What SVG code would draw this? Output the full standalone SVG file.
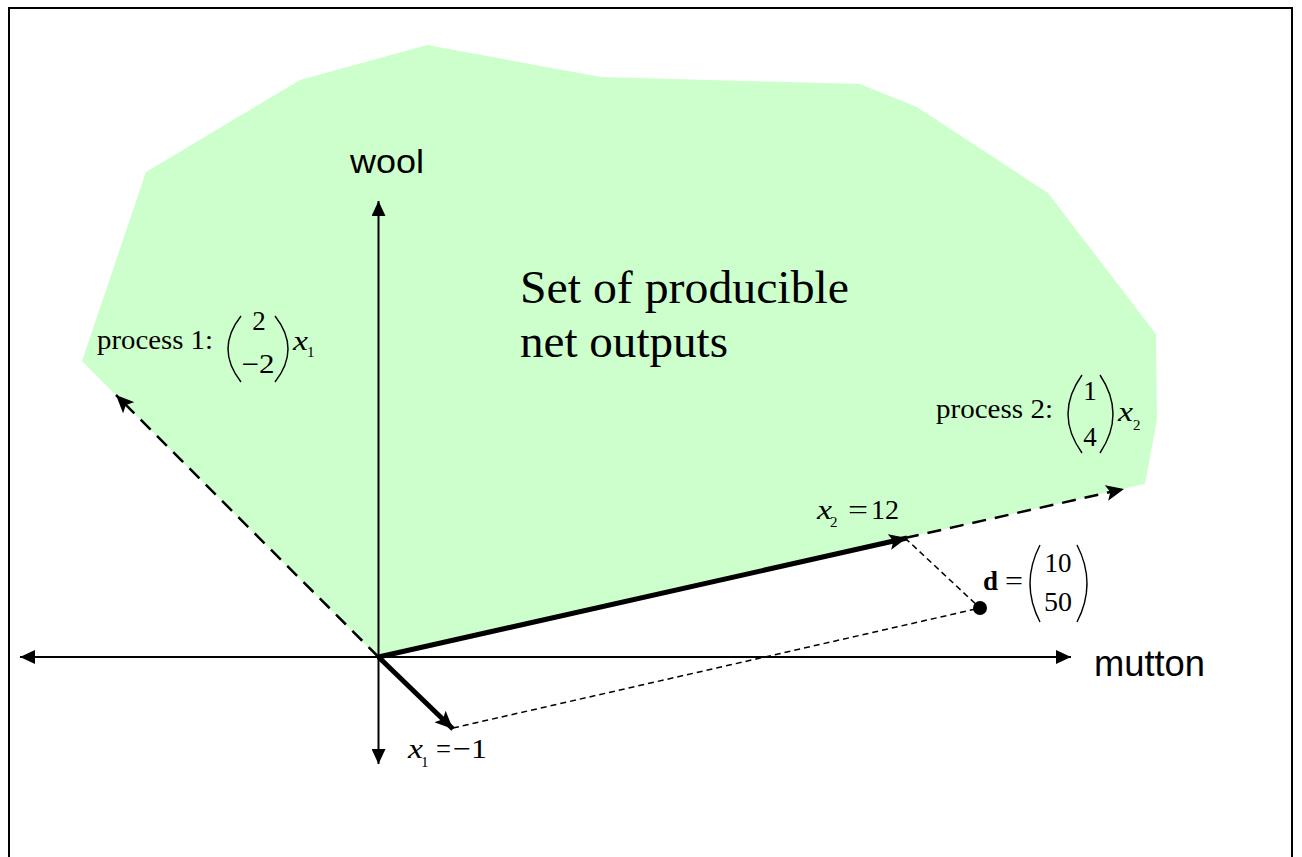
<svg xmlns="http://www.w3.org/2000/svg" width="1302" height="857" viewBox="0 0 1302 857">
<defs>
<marker id="ah" viewBox="0 0 15 14" refX="15" refY="7" markerWidth="15" markerHeight="14" markerUnits="userSpaceOnUse" orient="auto">
<path d="M0,0 L15,7 L0,14 Z" fill="#000"/>
</marker>
<marker id="ahb" viewBox="0 0 18 16" refX="18" refY="8" markerWidth="18" markerHeight="16" markerUnits="userSpaceOnUse" orient="auto">
<path d="M0,0 L18,8 L0,16 L4,8 Z" fill="#000"/>
</marker>
</defs>
<style>
.serif{font-family:"Liberation Serif","Times New Roman",serif;fill:#000}
.sans{font-family:"Liberation Sans",Arial,sans-serif;fill:#000}
.it{font-style:italic}
.par{fill:none;stroke:#000;stroke-width:1.4}
.ax{stroke:#000;stroke-width:2;fill:none}
.thick{stroke:#000;stroke-width:5;fill:none}
.dash{stroke:#000;stroke-width:2.5;stroke-dasharray:14 9;fill:none}
.dot{stroke:#000;stroke-width:1.5;stroke-dasharray:6 4;fill:none}
</style>
<rect x="0" y="0" width="1302" height="857" fill="#fff"/>
<rect x="9" y="8" width="1283" height="870" fill="none" stroke="#000" stroke-width="2"/>
<g id="region">
<polygon points="82,361 146,172 300,80 427,45 601,77 860,84 917,107 1048,193 1156,334 1157,420 1145,484 378,657" fill="#CCFFCC"/>
<text class="serif" x="520" y="303" font-size="47" textLength="329" lengthAdjust="spacingAndGlyphs">Set of producible</text>
<text class="serif" x="520" y="357" font-size="47" textLength="208" lengthAdjust="spacingAndGlyphs">net outputs</text>
</g>
<g id="connectors">
<line class="ax" x1="378.5" y1="657" x2="20" y2="657" marker-end="url(#ah)"/>
<line class="ax" x1="378.5" y1="657" x2="1071" y2="657" marker-end="url(#ah)"/>
<line class="ax" x1="378.5" y1="657" x2="378.5" y2="201" marker-end="url(#ah)"/>
<line class="ax" x1="378.5" y1="657" x2="378.5" y2="764" marker-end="url(#ah)"/>
<line class="dash" x1="378.5" y1="657" x2="116" y2="395" marker-end="url(#ahb)"/>
<line class="dash" x1="905" y1="538" x2="1124" y2="489" marker-end="url(#ahb)"/>
<line class="thick" x1="378.5" y1="657" x2="907" y2="538" marker-end="url(#ahb)"/>
<line class="thick" x1="378.5" y1="657" x2="453" y2="729" marker-end="url(#ahb)"/>
<line class="dot" x1="453" y1="728" x2="980" y2="608"/>
<line class="dot" x1="905" y1="538" x2="980" y2="608"/>
</g>
<g id="axis-labels">
<text class="sans" x="350" y="173" font-size="34" textLength="74" lengthAdjust="spacingAndGlyphs">wool</text>
<text class="sans" x="1094" y="676" font-size="36" textLength="111" lengthAdjust="spacingAndGlyphs">mutton</text>
</g>
<g id="process1">
<text class="serif" x="97" y="349" font-size="28" textLength="116" lengthAdjust="spacingAndGlyphs">process 1:</text>
<path class="par" d="M241,316 Q215,349 241,382"/>
<path class="par" d="M275,316 Q301,349 275,382"/>
<text class="serif" x="259" y="330" font-size="27" text-anchor="middle">2</text>
<text class="serif" x="258" y="373" font-size="27" text-anchor="middle" textLength="33" lengthAdjust="spacingAndGlyphs">−2</text>
<text class="serif it" x="293" y="350" font-size="28" textLength="15" lengthAdjust="spacingAndGlyphs">x</text>
<text class="serif" x="307" y="357" font-size="15">1</text>
</g>
<g id="process2">
<text class="serif" x="936" y="418" font-size="28" textLength="117" lengthAdjust="spacingAndGlyphs">process 2:</text>
<path class="par" d="M1082,375 Q1054,414 1082,453"/>
<path class="par" d="M1100,375 Q1126,414 1100,453"/>
<text class="serif" x="1090" y="400" font-size="27" text-anchor="middle">1</text>
<text class="serif" x="1090" y="446" font-size="27" text-anchor="middle">4</text>
<text class="serif it" x="1118" y="421" font-size="28" textLength="15" lengthAdjust="spacingAndGlyphs">x</text>
<text class="serif" x="1133" y="430" font-size="15">2</text>
</g>
<g id="x2label">
<text class="serif it" x="817" y="519" font-size="28" textLength="15" lengthAdjust="spacingAndGlyphs">x</text>
<text class="serif" x="830" y="527" font-size="15">2</text>
<text class="serif" x="848" y="519" font-size="27" textLength="20" lengthAdjust="spacingAndGlyphs">=</text>
<text class="serif" x="871" y="519" font-size="27" textLength="28" lengthAdjust="spacingAndGlyphs">12</text>
</g>
<g id="x1label">
<text class="serif it" x="408" y="758" font-size="28" textLength="15" lengthAdjust="spacingAndGlyphs">x</text>
<text class="serif" x="421" y="767" font-size="15">1</text>
<text class="serif" x="436" y="758" font-size="27" textLength="15" lengthAdjust="spacingAndGlyphs">=</text>
<text class="serif" x="453" y="758" font-size="28" textLength="34" lengthAdjust="spacingAndGlyphs">−1</text>
</g>
<g id="pointd">
<circle cx="980" cy="608" r="7" fill="#000"/>
<text class="serif" x="983" y="590" font-size="27" font-weight="bold" textLength="15" lengthAdjust="spacingAndGlyphs">d</text>
<text class="serif" x="1005" y="590" font-size="27" textLength="18" lengthAdjust="spacingAndGlyphs">=</text>
<path class="par" d="M1040,545 Q1020,583.5 1040,622"/>
<path class="par" d="M1077,545 Q1097,583.5 1077,622"/>
<text class="serif" x="1058" y="572" font-size="27" text-anchor="middle" textLength="27" lengthAdjust="spacingAndGlyphs">10</text>
<text class="serif" x="1058" y="611" font-size="27" text-anchor="middle" textLength="28" lengthAdjust="spacingAndGlyphs">50</text>
</g>
</svg>
